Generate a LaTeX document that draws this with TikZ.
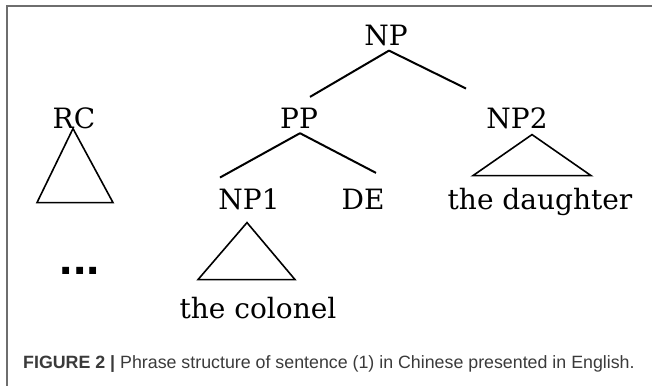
\documentclass[tikz,border=0pt]{standalone}
\usepackage{fontspec}
\usetikzlibrary{calc}
\newfontfamily\capfont{Liberation Sans}
\newfontfamily\treeserif{DejaVu Serif}
\definecolor{framegray}{HTML}{6E6E6E}
\definecolor{captext}{HTML}{3A3A3A}
\newcommand\treefont{\treeserif\fontsize{28}{34}\selectfont}

\begin{document}
\begin{tikzpicture}[
      x=1pt, y=-1pt,
      cat/.style = {
        anchor=base,
        inner sep=2pt,
        font=\treefont,
      },
      branch/.style = {
        draw=black,
        line width=2pt,
      },
      tri/.style = {
        draw=black,
        line width=1.6pt,
        line join=miter,
      },
    ]
      \useasboundingbox (0, 0) rectangle (652, 386);
      \draw[framegray, line width=1.5pt] (652, 6) -- (7, 6) -- (7, 386);

      \node[cat] (np) at (386, 45) {NP};
      \node[cat] (rc) at (74, 128) {RC};
      \node[cat] (pp) at (299, 128) {PP};
      \node[cat] (np2) at (517, 128) {NP2};
      \node[cat] (npone) at (249, 209) {NP1};
      \node[cat] (de) at (363, 209) {DE};
      \node[cat] (daughter) at (540, 209) {the daughter};
      \node[cat] (colonel) at (258, 318) {the colonel};
      \node[anchor=base, inner sep=0pt, font=\capfont\bfseries\fontsize{48}{50}\selectfont] (dots) at (80, 274) {...};

      \draw[branch] ($(np.south) + (3, 3)$) -- ($(pp.north) + (11, -8.5)$);
      \draw[branch] ($(np.south) + (3, 3)$) -- ($(np2.north) + (-51, -16.5)$);
      \draw[branch] ($(pp.south) + (1, 3)$) -- ($(npone.north) + (-29, -8.5)$);
      \draw[branch] ($(pp.south) + (1, 3)$) -- ($(de.north) + (13, -13.5)$);

      \draw[tri] ($(rc.south) + (-1, -2)$) -- ++(-36, 74) -- ++(76, 0) -- cycle;
      \draw[tri] ($(np2.south) + (15, 4)$) -- ++(-59, 41) -- ++(118, 0) -- cycle;
      \draw[tri] ($(npone.south) + (-2, 11)$) -- ++(-49, 57) -- ++(97, 0) -- cycle;

      \node[anchor=base west, inner sep=0pt, text=captext, font=\capfont\fontsize{17.8}{21}\selectfont] (caption) at (23, 368)
        {\textbf{FIGURE 2 |} Phrase structure of sentence (1) in Chinese presented in English.};
\end{tikzpicture}
\end{document}
